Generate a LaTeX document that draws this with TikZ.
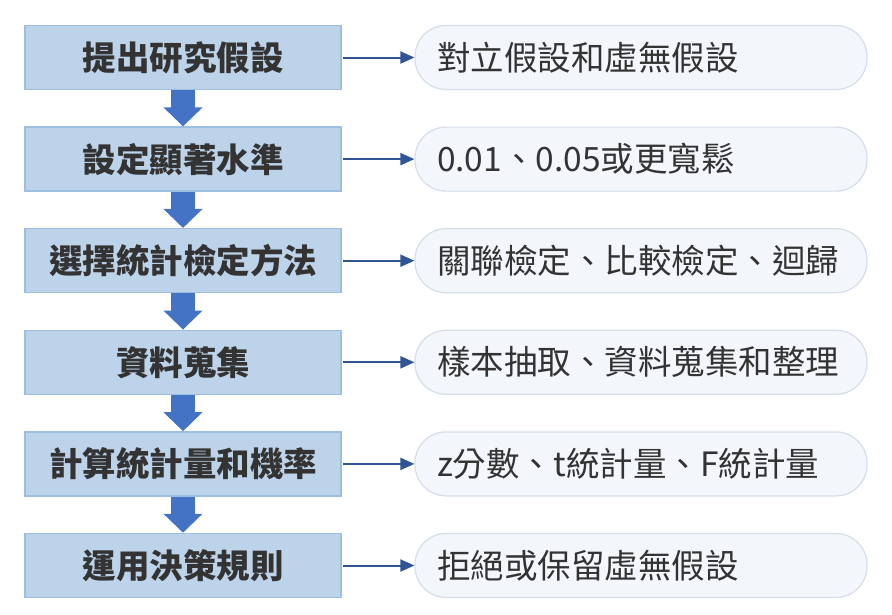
\documentclass[tikz,border=0pt]{standalone}
\usepackage{fontspec}
\setmainfont{Noto Sans CJK TC}
\usetikzlibrary{arrows.meta}

\begin{document}
\begin{tikzpicture}[%%
  x=1pt,y=-1pt,%%
  stepBox/.style={draw=boxEdge,line width=1.5pt,fill=boxFill,minimum width=316pt,minimum height=64pt,font=\fontsize{33.5}{36}\selectfont\bfseries,text=black!80},%%
  noteBox/.style={draw=noteEdge,line width=1.2pt,fill=noteFill,rounded corners=31pt,minimum width=452pt,minimum height=64pt,font=\fontsize{33.5}{36}\selectfont,text=black!80,text width=408pt,align=left},%%
  downArrow/.style={draw=arrowBlue,line width=24pt,-{Triangle[width=38pt,length=19pt]}},%%
  sideArrow/.style={draw=lineBlue,line width=2pt,-{Triangle[width=12pt,length=14pt]}}%%
]
\definecolor{boxFill}{HTML}{BDD3EA}
\definecolor{boxEdge}{HTML}{9DBDE3}
\definecolor{noteFill}{HTML}{F3F7FC}
\definecolor{noteEdge}{HTML}{D5DEE9}
\definecolor{arrowBlue}{HTML}{4472C4}
\definecolor{lineBlue}{HTML}{2F5597}
\useasboundingbox (0,0) rectangle (892,614);
%% The steps and their notes.
\foreach \i/\step/\note in {%%
  1/提出研究假設/對立假設和虛無假設,%%
  2/設定顯著水準/{0.01、0.05或更寬鬆},%%
  3/選擇統計檢定方法/{關聯檢定、比較檢定、迴歸},%%
  4/資料蒐集/{樣本抽取、資料蒐集和整理},%%
  5/計算統計量和機率/{z分數、t統計量、F統計量},%%
  6/運用決策規則/拒絕或保留虛無假設}{%%
  \pgfmathsetmacro{\ypos}{57.5+101.6*(\i-1)}
  \node[stepBox] (step\i) at (183,\ypos) {\step};
  \node[noteBox] (note\i) at (641,\ypos) {\note};
  \draw[sideArrow] (step\i.east) ++(1,0) -- (note\i.west);
}
%% Arrows between the steps.
\foreach \i [evaluate=\i as \j using int(\i+1)] in {1,...,5}{%%
  \draw[downArrow] (step\i.south) -- (step\j.north);
}
\end{tikzpicture}
\end{document}
